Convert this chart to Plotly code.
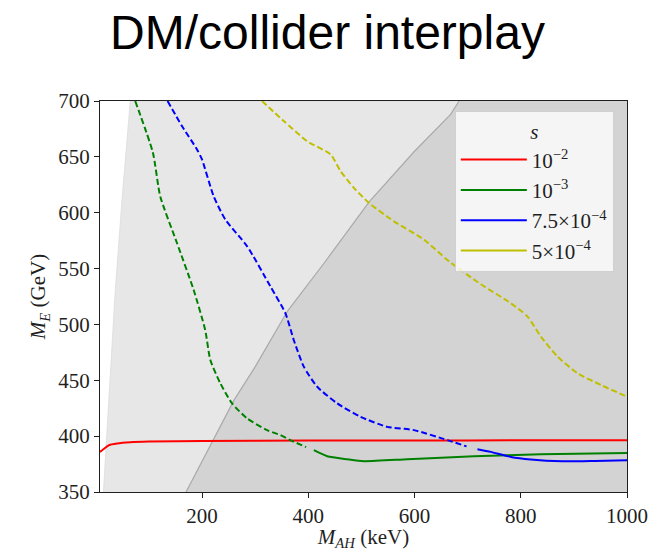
import plotly.graph_objects as go

# --- data (M_AH in keV, M_E in GeV) ---
# excluded-region boundaries
left_edge_x = [14.5, 25, 36.8, 50, 65]
left_edge_y = [350, 440, 531, 615, 700]
right_edge_x = [170, 210, 260, 300, 361, 430, 515, 600, 668, 684]
right_edge_y = [350, 386, 432, 462, 512, 555, 610, 655, 688, 700]

# s = 1e-2 (solid)
red_x = [8, 15, 25, 40, 65, 100, 200, 400, 700, 1000]
red_y = [385.9, 388.5, 392, 393.5, 394.6, 395.2, 395.7, 396.0, 396.2, 396.3]

# s = 1e-3 (dashed part, then solid part)
green_dash_x = [74.3, 107.6, 121.4, 152.9, 184.2, 206, 215.7, 234.5, 256.6, 284.9, 322.6, 347.7, 366.5, 396]
green_dash_y = [700, 653.7, 614.7, 572.9, 531, 495, 468.2, 447.3, 429.3, 415.9, 405.4, 400.9, 396.4, 390.2]
green_solid_x = [410.5, 435.7, 473.4, 504.7, 586.5, 712, 838, 1000]
green_solid_y = [387.4, 382.0, 379.3, 377.6, 379.3, 382.0, 383.8, 385.0]

# s = 7.5e-4 (dashed part, then solid part)
blue_dash_x = [135.2, 162.3, 190.6, 200, 222, 244, 285, 328.8, 357, 372.7, 391.6, 416.9, 454.6, 498.5, 548.8, 599, 662, 698]
blue_dash_y = [700, 677.6, 656.6, 647.7, 614.7, 593.8, 569.9, 534, 510, 486.1, 462.2, 444.2, 429.3, 417.3, 408.3, 405.4, 396.4, 390.8]
blue_solid_x = [718.5, 743.6, 781.3, 819, 878, 940, 1000]
blue_solid_y = [388.3, 385.9, 381.4, 379.1, 377.5, 377.8, 378.4]

# s = 5e-4 (dashed)
yellow_x = [313, 354, 398, 442, 460.8, 485.9, 514.2, 561.3, 617.8, 665, 724.7, 781.3, 812.8, 837.9, 869.3, 907, 951, 1000]
yellow_y = [700, 682, 664, 652.2, 637.2, 622.3, 608.8, 592.3, 575.9, 556.5, 536, 519, 507, 489.1, 471.2, 456.2, 445.8, 435.3]

legend_labels = ["10<sup>\u22122</sup>", "10<sup>\u22123</sup>",
                 "7.5\u00d710<sup>\u22124</sup>", "5\u00d710<sup>\u22124</sup>"]
legend_colors = ["#ff0000", "#008000", "#0000ff", "#bfbf00"]

X_MIN, X_MAX = 8, 1000
Y_MIN, Y_MAX = 350, 700

SERIF = "Liberation Serif, DejaVu Serif, serif"
DASH = "6px,3px"
INK = "#1f1f1f"

fig = go.Figure()

# light shaded region (right of the left boundary)
fig.add_trace(go.Scatter(
    x=left_edge_x + [X_MAX, X_MAX],
    y=left_edge_y + [Y_MAX, Y_MIN],
    fill="toself", fillcolor="#e7e7e7", line=dict(width=0.8, color="#dcdcdc"),
    mode="lines", hoverinfo="skip", showlegend=False))

# darker shaded region (right of the second boundary)
fig.add_trace(go.Scatter(
    x=right_edge_x + [X_MAX, X_MAX],
    y=right_edge_y + [Y_MAX, Y_MIN],
    fill="toself", fillcolor="#d3d3d3", line=dict(width=0),
    mode="lines", hoverinfo="skip", showlegend=False))
fig.add_trace(go.Scatter(
    x=right_edge_x, y=right_edge_y, mode="lines",
    line=dict(color="#a9a9a9", width=1.2),
    hoverinfo="skip", showlegend=False))

def curve(x, y, color, dashed):
    fig.add_trace(go.Scatter(
        x=x, y=y, mode="lines", showlegend=False,
        line=dict(color=color, width=2, dash=DASH if dashed else "solid", shape="spline", smoothing=0.6)))

curve(red_x, red_y, legend_colors[0], False)
curve(green_dash_x, green_dash_y, legend_colors[1], True)
curve(green_solid_x, green_solid_y, legend_colors[1], False)
curve(blue_dash_x, blue_dash_y, legend_colors[2], True)
curve(blue_solid_x, blue_solid_y, legend_colors[2], False)
curve(yellow_x, yellow_y, legend_colors[3], True)

# legend entries drawn with solid samples
for i, (lab, col) in enumerate(zip(legend_labels, legend_colors)):
    fig.add_trace(go.Scatter(
        x=[None], y=[None], mode="lines", name=lab,
        line=dict(color=col, width=2)))

axis_common = dict(
    showgrid=False, zeroline=False, showline=True, linecolor=INK, linewidth=1.3,
    mirror=True, ticks="outside", ticklen=5, tickwidth=1.2, tickcolor=INK,
    tickfont=dict(family=SERIF, size=21, color=INK), automargin=False,
)

fig.update_layout(
    width=655, height=551,
    margin=dict(l=100, r=28, t=101, b=59, autoexpand=False),
    paper_bgcolor="white", plot_bgcolor="white",
    title=dict(text="DM/collider interplay", x=0.5, xref="container", xanchor="center",
               y=1 - 32 / 551, yref="container", yanchor="middle",
               font=dict(family="Liberation Sans, Arial, sans-serif", size=48, color="black")),
    xaxis=dict(range=[X_MIN, X_MAX], tickvals=[200, 400, 600, 800, 1000],
               title=dict(text="<i>M</i><sub><i>AH</i></sub> (keV)", standoff=3,
                          font=dict(family=SERIF, size=21, color=INK)),
               **axis_common),
    yaxis=dict(range=[Y_MIN, Y_MAX], tickvals=[350, 400, 450, 500, 550, 600, 650, 700],
               title=dict(text="<i>M</i><sub><i>E</i></sub> (GeV)", standoff=6,
                          font=dict(family=SERIF, size=21, color=INK)),
               **axis_common),
    legend=dict(
        x=0.975, y=0.974, xanchor="right", yanchor="top",
        bgcolor="rgba(255,255,255,0.78)", bordercolor="#d0d0d0", borderwidth=1,
        font=dict(family=SERIF, size=21, color=INK),
        title=dict(text="<i>s</i>", side="top center",
                   font=dict(family=SERIF, size=21, color=INK)),
        itemwidth=66,
    ),
)

fig.write_html("out.html")
